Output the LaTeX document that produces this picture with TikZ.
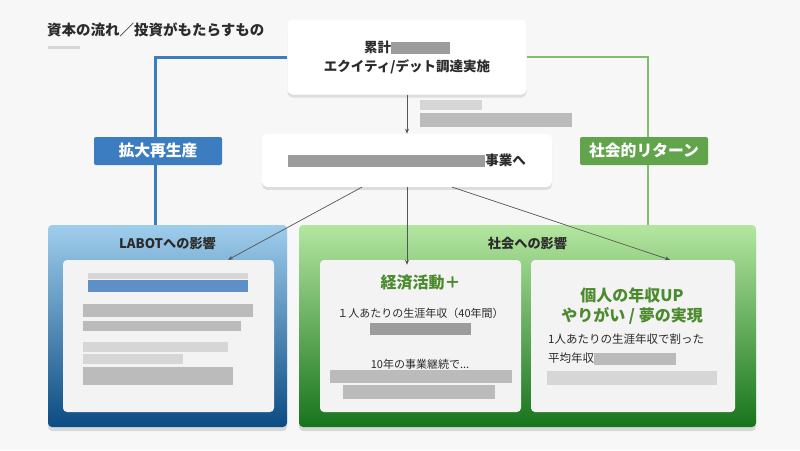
\documentclass[tikz,border=0pt]{standalone}
\usepackage{fontspec}
\setmainfont{Noto Sans CJK JP}
\usepackage{tikz}
\usetikzlibrary{positioning, arrows.meta, shadows, calc}

\definecolor{pagebg}{HTML}{F7F7F7}
\definecolor{inkdark}{HTML}{2B2B2B}
\definecolor{inkgray}{HTML}{555555}
\definecolor{labotblue}{HTML}{3C7DC1}
\definecolor{returngreen}{HTML}{62A44B}
\definecolor{returnline}{HTML}{80BE6B}
\definecolor{skyblue}{HTML}{9FCDEC}
\definecolor{navyblue}{HTML}{0B4C83}
\definecolor{leafgreen}{HTML}{B4E6A0}
\definecolor{deepgreen}{HTML}{18741C}
\definecolor{panelgray}{HTML}{F3F3F3}
\definecolor{headgreen}{HTML}{4B8A2D}
\definecolor{blurdark}{HTML}{9C9C9C}
\definecolor{blurmid}{HTML}{BBBBBB}
\definecolor{blurlight}{HTML}{D6D6D6}
\definecolor{blurblue}{HTML}{5E90C6}
\newcommand{\smudge}[2][blurdark]{{\color{#1}\rule[-2pt]{#2}{12pt}}}

\begin{document}
\begin{tikzpicture}[x=1pt, y=-1pt, node distance=39pt, every node/.style={align=center, inner sep=0pt}]
\tikzset{
  card/.style={
    rectangle, fill=white, rounded corners=5pt, text=inkdark,
    font=\bfseries\fontsize{13.5}{19}\selectfont,
    drop shadow={shadow xshift=0pt, shadow yshift=-3pt, opacity=0.10, fill=black}
  },
  panel/.style={
    rectangle, rounded corners=4pt, minimum width=239pt, minimum height=202pt,
    drop shadow={shadow xshift=0pt, shadow yshift=-4pt, opacity=0.12, fill=black}
  },
  inner/.style={rectangle, fill=panelgray, rounded corners=4pt, minimum height=152pt},
  tag/.style={
    rectangle, rounded corners=2pt, minimum width=128pt, minimum height=28pt,
    text=white, font=\bfseries\fontsize{15.8}{18}\selectfont
  },
  paneltitle/.style={text=inkdark, font=\bfseries\fontsize{13.2}{15}\selectfont},
  headline/.style={text=headgreen, font=\bfseries\fontsize{16}{20}\selectfont},
  body/.style={text=inkdark, font=\fontsize{11}{19}\selectfont},
  flow/.style={draw=inkgray, line width=0.7pt, -{Stealth[length=5pt, width=4pt]}}
}

\fill[pagebg] (0,0) rectangle (800,450);
\useasboundingbox (0,0) rectangle (800,450);

\node (title) [anchor=west, text=inkdark, font=\bfseries\fontsize{14.5}{16}\selectfont] at (47,30) {資本の流れ／投資がもたらすもの};
\fill[blurlight] (48,46) rectangle (80,49);

\node (funding) [card, minimum width=239pt, minimum height=75pt] at (407,57) {累計\smudge{59pt}\\エクイティ/デット調達実施};

\node (project) [card, minimum width=290pt, minimum height=53pt, below=of funding] {\smudge{197pt}事業へ};

\node (labot) [panel, top color=skyblue, bottom color=navyblue] at (167.5,326) {};
\node (social) [panel, minimum width=457pt, top color=leafgreen, bottom color=deepgreen] at (527.5,326) {};

\node (labottitle) [paneltitle] at (labot.north |- 0,243) {LABOTへの影響};
\node (socialtitle) [paneltitle] at (social.north |- 0,243) {社会への影響};

\node (labotin) [inner, minimum width=211pt] at (168.5,336) {};
\node (econ) [inner, minimum width=201pt] at (420.5,336) {};
\node (person) [inner, minimum width=204pt] at (633,336) {};

\draw[labotblue, line width=3pt] (funding.west) -| ([xshift=-12.5pt]labot.north);
\draw[returnline, line width=2.5pt] (funding.east) -| ([xshift=120.5pt]social.north);

\node (growth) [tag, fill=labotblue] at (158,151) {拡大再生産};
\node (payback) [tag, fill=returngreen] at (644,151) {社会的リターン};

\draw[flow] (funding.south) -- (project.north);
\draw[flow] ([xshift=-45pt]project.south) -- ([xshift=59.5pt]labotin.north);
\draw[flow] (project.south) -- ([yshift=-5pt]project.south |- econ.north);
\draw[flow] ([xshift=45pt]project.south) -- ([xshift=37pt]person.north);

\foreach \x/\y/\w/\h/\c in {420/100/62/10/blurlight, 420/113/152/14/blurmid,
  88/273/160/6/blurlight, 88/280/160/12/blurblue, 83/304/170/13/blurmid,
  83/321/158/10/blurmid, 83/342/145/10/blurlight, 83/354/100/10/blurlight,
  83/367/150/18/blurmid, 330/370/182/13/blurmid, 343/385/152/14/blurmid,
  547/371/170/14/blurlight}
  \fill[\c] (\x,\y) rectangle ++(\w,\h);

\node (econhead) [headline] at (420.5,282) {経済活動＋};
\node (econline) [body] at (420.5,313) {１人あたりの生涯年収（40年間）};
\node (econsum) [body, below=4pt of econline] {\smudge{101pt}};
\node (econyears) [body] at (420,364) {10年の事業継続で...};

\node (personhead) [headline] at (632,306) {個人の年収UP\\やりがい / 夢の実現};
\node (personline) [body, anchor=north west, align=left, font=\fontsize{11.5}{19}\selectfont] at (548,334) {1人あたりの生涯年収で割った\\平均年収\smudge[blurmid]{82pt}};
\end{tikzpicture}
\end{document}
